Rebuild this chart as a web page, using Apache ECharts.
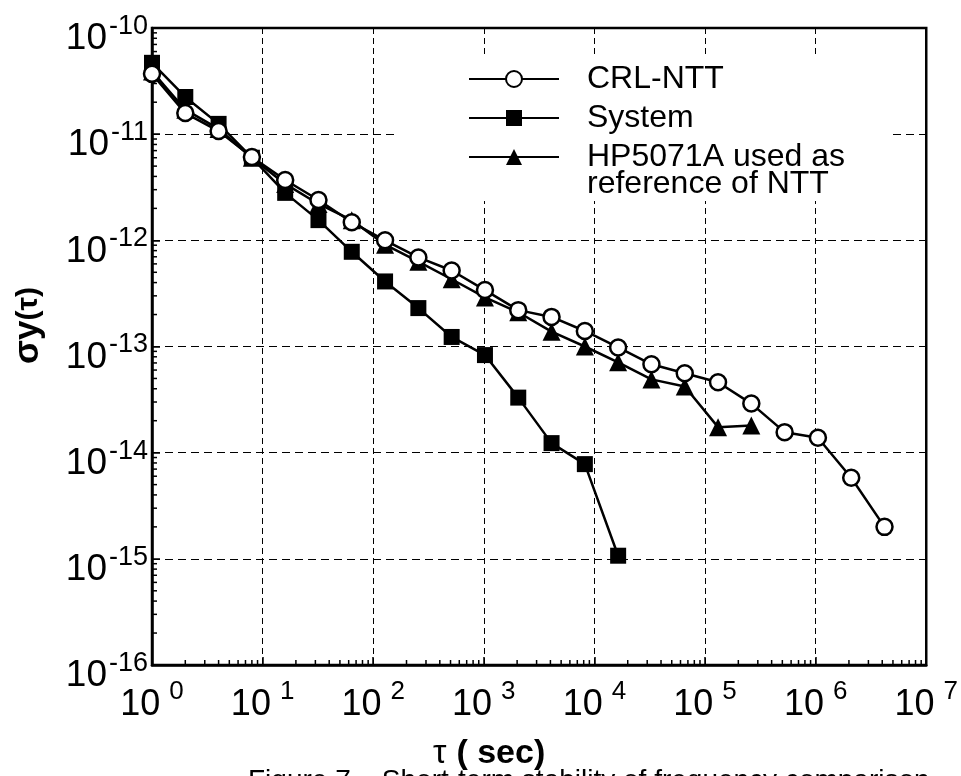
<!DOCTYPE html>
<html>
<head>
<meta charset="utf-8">
<script src="https://cdn.jsdelivr.net/npm/echarts@6/dist/echarts.min.js"></script>
<style>
html, body { margin: 0; padding: 0; background: #fff; }
#main { width: 961px; height: 776px; }
</style>
</head>
<body>
<div id="main"></div>
<script>
const FONT = 'Liberation Sans, Arial, Helvetica, sans-serif';

// averaging time (s)
const tau = [1, 2, 4, 8, 16, 32, 64, 128, 256, 512, 1024, 2048, 4096, 8192,
  16384, 32768, 65536, 131072, 262144, 524288, 1048576, 2097152, 4194304];
// sigma_y(tau)
const crlNtt = [3.7e-11, 1.58e-11, 1.07e-11, 6.1e-12, 3.7e-12, 2.4e-12, 1.48e-12, 1.0e-12,
  6.9e-13, 5.2e-13, 3.4e-13, 2.2e-13, 1.9e-13, 1.4e-13, 9.8e-14, 6.8e-14, 5.6e-14,
  4.6e-14, 2.9e-14, 1.56e-14, 1.38e-14, 5.8e-15, 2.0e-15];
const systemVals = [4.7e-11, 2.24e-11, 1.25e-11, 6.0e-12, 2.8e-12, 1.55e-12, 7.8e-13,
  4.1e-13, 2.3e-13, 1.23e-13, 8.3e-14, 3.3e-14, 1.23e-14, 7.8e-15, 1.07e-15];
const hp5071a = [3.9e-11, 1.7e-11, 1.12e-11, 6.0e-12, 3.4e-12, 2.2e-12, 1.55e-12, 9.1e-13,
  6.3e-13, 4.3e-13, 2.9e-13, 2.1e-13, 1.38e-13, 1.0e-13, 7.1e-14, 4.9e-14, 4.2e-14,
  1.74e-14, 1.8e-14];

// axis decades (tick labels are 10^n)
const xExp = [0, 1, 2, 3, 4, 5, 6, 7];
const yExp = [-16, -15, -14, -13, -12, -11, -10];

const names = ['CRL-NTT', 'System', 'HP5071A used as reference of NTT'];
const legendLines = { 'HP5071A used as reference of NTT': 'HP5071A used as' };
const legendSecondLine = 'reference of NTT';

// minor tick positions 2..9 x 10^n inside each decade
const minorOf = (exps) => {
  const out = [];
  for (let i = 0; i < exps.length - 1; i++) {
    for (let m = 2; m <= 9; m++) out.push(m * Math.pow(10, exps[i]));
  }
  return out;
};
const xMinor = minorOf(xExp);
const yMinor = minorOf(yExp);

const xMin = Math.pow(10, xExp[0]);
const xMax = Math.pow(10, xExp[xExp.length - 1]);
const yMin = Math.pow(10, yExp[0]);
const yMax = Math.pow(10, yExp[yExp.length - 1]);

const pairs = (vals) => vals.map((v, i) => [tau[i], v]);
const expOf = (v) => Math.round(Math.log10(v));

const lineStyle = { color: '#000', width: 2.5 };

const myChart = echarts.init(document.getElementById('main'));

const option = {
  backgroundColor: '#fff',
  animation: false,
  textStyle: { fontFamily: FONT, color: '#000' },
  grid: {
    left: 152, top: 28, right: 34, bottom: 111,
    show: true, borderColor: '#000', borderWidth: 2.5
  },
  legend: {
    data: names,
    formatter: (name) => legendLines[name] || name,
    orient: 'vertical',
    left: 398,
    top: 58,
    padding: [5, 47, 28, 70],
    backgroundColor: '#fff',
    itemWidth: 90,
    itemHeight: 20,
    itemGap: 7,
    textStyle: {
      fontFamily: FONT, fontSize: 32, lineHeight: 32, color: '#000',
      padding: [0, 0, 0, 23]
    }
  },
  xAxis: {
    type: 'log', logBase: 10, min: xMin, max: xMax, splitNumber: 7,
    axisLine: { lineStyle: { color: '#000', width: 2.5 } },
    axisTick: { inside: true, length: 8, lineStyle: { color: '#000', width: 1.5 } },
    splitLine: { show: true, lineStyle: { color: '#000', width: 1, type: [6, 4] } },
    axisLabel: {
      margin: 14,
      formatter: (v) => '{b|10}{e|' + expOf(v) + '}',
      rich: {
        b: { fontFamily: FONT, fontSize: 36, lineHeight: 52, color: '#000' },
        e: { fontFamily: FONT, fontSize: 26, lineHeight: 20, verticalAlign: 'top', color: '#000', padding: [0, 0, 0, 9] }
      }
    },
    name: '{t|τ}{s|( sec)}',
    nameLocation: 'middle',
    nameGap: 72,
    nameTextStyle: {
      padding: [0, 100, 0, 0],
      rich: {
        t: { fontFamily: FONT, fontSize: 34, color: '#000', padding: [0, 10, 0, 0] },
        s: { fontFamily: FONT, fontSize: 34, fontWeight: 'bold', color: '#000' }
      }
    }
  },
  yAxis: {
    type: 'log', logBase: 10, min: yMin, max: yMax, splitNumber: 6,
    axisLine: { lineStyle: { color: '#000', width: 2.5 } },
    axisTick: { inside: true, length: 8, lineStyle: { color: '#000', width: 1.5 } },
    splitLine: { show: true, lineStyle: { color: '#000', width: 1, type: [8, 5] } },
    axisLabel: {
      margin: 4,
      padding: [22, 0, 0, 0],
      formatter: (v) => '{b|10}{e|' + expOf(v) + '}',
      rich: {
        b: { fontFamily: FONT, fontSize: 37, lineHeight: 52, color: '#000' },
        e: { fontFamily: FONT, fontSize: 27, lineHeight: 20, verticalAlign: 'top', color: '#000', padding: [0, 0, 0, 2] }
      }
    },
    name: '{s|σy}{t|(τ)}',
    nameLocation: 'middle',
    nameRotate: 90,
    nameGap: 106,
    nameTextStyle: {
      padding: [0, 0, 0, 42],
      rich: {
        s: { fontFamily: FONT, fontSize: 35, fontWeight: 'bold', color: '#000' },
        t: { fontFamily: FONT, fontSize: 30, fontWeight: 'bold', color: '#000' }
      }
    }
  },
  graphic: [
    {
      type: 'text', left: 587, top: 168, z: 100, silent: true,
      style: { text: legendSecondLine, fontFamily: FONT, fontSize: 32, fill: '#000' }
    },
    {
      type: 'text', left: 248, top: 767, silent: true,
      style: {
        text: 'Figure 7.   Short-term stability of frequency comparison',
        fontFamily: FONT, fontSize: 28, fill: '#000'
      }
    }
  ],
  series: [
    {
      name: 'xMinorTicks', type: 'custom', silent: true, z: 1,
      data: xMinor.map((v) => [v, yMin]),
      renderItem: (params, api) => {
        const p = api.coord([api.value(0), api.value(1)]);
        return { type: 'line', shape: { x1: p[0], y1: p[1], x2: p[0], y2: p[1] - 5 },
          style: { stroke: '#000', lineWidth: 1.5 } };
      }
    },
    {
      name: 'yMinorTicks', type: 'custom', silent: true, z: 1,
      data: yMinor.map((v) => [xMin, v]),
      renderItem: (params, api) => {
        const p = api.coord([api.value(0), api.value(1)]);
        return { type: 'line', shape: { x1: p[0], y1: p[1], x2: p[0] + 5, y2: p[1] },
          style: { stroke: '#000', lineWidth: 1.5 } };
      }
    },
    {
      name: names[2], type: 'line', data: pairs(hp5071a),
      symbol: 'triangle', symbolSize: 18,
      lineStyle: lineStyle,
      itemStyle: { color: '#000', borderColor: '#000', borderWidth: 0 }
    },
    {
      name: names[1], type: 'line', data: pairs(systemVals),
      symbol: 'rect', symbolSize: 16,
      lineStyle: lineStyle,
      itemStyle: { color: '#000', borderColor: '#000', borderWidth: 0 }
    },
    {
      name: names[0], type: 'line', data: pairs(crlNtt),
      symbol: 'circle', symbolSize: 16, showAllSymbol: true,
      lineStyle: lineStyle,
      itemStyle: { color: '#fff', borderColor: '#000', borderWidth: 2.5 }
    }
  ]
};

myChart.setOption(option);
</script>
</body>
</html>
